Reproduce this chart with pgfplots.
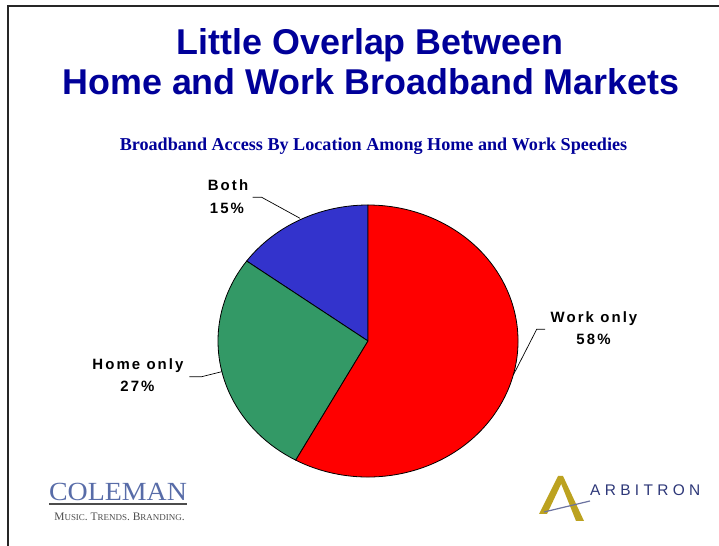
\documentclass[border=0pt]{standalone}
\usepackage{pgfplots}
\usepackage{pgfplotstable}
\pgfplotsset{compat=1.18}
\usepackage{fontspec}
\setmainfont{Liberation Sans}
\newfontfamily\serif{Liberation Serif}
\newfontfamily\lbl[LetterSpace=14]{Liberation Sans}
\newfontfamily\arb[LetterSpace=28]{Liberation Sans}
\definecolor{ttl}{RGB}{0,0,153}
\definecolor{pred}{RGB}{255,0,0}
\definecolor{pgreen}{RGB}{51,153,102}
\definecolor{pblue}{RGB}{51,51,204}
\definecolor{colem}{RGB}{88,108,168}
\definecolor{arbblue}{RGB}{45,55,120}
\definecolor{gold}{RGB}{188,162,32}

\pgfplotstableread{
label value
Both 15
Home 27
Work 58
}\piedata

\begin{document}
\begin{tikzpicture}
\path[use as bounding box] (0,0) rectangle (719bp,546bp);
\pgfplotstablegetelem{0}{value}\of\piedata \let\vBoth\pgfplotsretval
\pgfplotstablegetelem{1}{value}\of\piedata \let\vHome\pgfplotsretval
\pgfplotstablegetelem{2}{value}\of\piedata \let\vWork\pgfplotsretval
\begin{axis}[at={(0,0)},anchor=south west,scale only axis,
  width=719bp,height=546bp,xmin=0,xmax=719,ymin=0,ymax=546,
  hide axis,clip=false]
% frame
\draw[line width=2bp,black!85] (axis cs:8,0) -- (axis cs:8,540) -- (axis cs:719,540);
% titles
\node[anchor=base,text=ttl,font=\bfseries\fontsize{36}{40}\selectfont] at (axis cs:370,491) {Little Overlap Between};
\node[anchor=base,text=ttl,font=\bfseries\fontsize{36}{40}\selectfont] at (axis cs:371,451) {Home and Work Broadband Markets};
\node[anchor=base,text=ttl,font=\serif\bfseries\fontsize{18.2}{20}\selectfont] at (axis cs:373.5,395.3) {Broadband Access By Location Among Home and Work Speedies};
% pie
\filldraw[fill=pblue,draw=black,line width=0.8bp] (axis cs:368,205) -- +(90:150bp and 136bp)
  arc[start angle=90,end angle={90+3.6*\vBoth},x radius=150bp,y radius=136bp] -- cycle;
\filldraw[fill=pgreen,draw=black,line width=0.8bp] (axis cs:368,205) -- +({90+3.6*\vBoth}:150bp and 136bp)
  arc[start angle={90+3.6*\vBoth},end angle={90+3.6*(\vBoth+\vHome)},x radius=150bp,y radius=136bp] -- cycle;
\filldraw[fill=pred,draw=black,line width=0.8bp] (axis cs:368,205) -- +({90+3.6*(\vBoth+\vHome)}:150bp and 136bp)
  arc[start angle={90+3.6*(\vBoth+\vHome)},end angle={90+3.6*(\vBoth+\vHome+\vWork)},x radius=150bp,y radius=136bp] -- cycle;
% leader lines
\draw[line width=0.7bp] (axis cs:252.7,348.7) -- (axis cs:261.7,348.7) -- (axis cs:300,327.7);
\draw[line width=0.7bp] (axis cs:189.3,169.3) -- (axis cs:201.7,169.3) -- (axis cs:221.7,174.3);
\draw[line width=0.7bp] (axis cs:545,216.7) -- (axis cs:536.7,216.7) -- (axis cs:513.3,171);
% labels
\node[anchor=base,font=\lbl\bfseries\fontsize{15}{17}\selectfont] at (axis cs:228,355) {Both};
\node[anchor=base,font=\lbl\bfseries\fontsize{15}{17}\selectfont] at (axis cs:227,332) {15\%};
\node[anchor=base,font=\lbl\bfseries\fontsize{15}{17}\selectfont] at (axis cs:138,176) {Home only};
\node[anchor=base,font=\lbl\bfseries\fontsize{15}{17}\selectfont] at (axis cs:137.5,154) {27\%};
\node[anchor=base,font=\lbl\bfseries\fontsize{15}{17}\selectfont] at (axis cs:594,223) {Work only};
\node[anchor=base,font=\lbl\bfseries\fontsize{15}{17}\selectfont] at (axis cs:593.5,201) {58\%};
% Coleman logo
\node[anchor=base,text=colem,font=\serif\fontsize{25}{28}\selectfont] at (axis cs:118,45) {\scalebox{1.12}[1.05]{COLEMAN}};
\draw[line width=2bp,black!70] (axis cs:49,41.5) -- (axis cs:187,41.5);
\node[anchor=base,text=black!70,font=\serif\fontsize{11.5}{12}\selectfont] at (axis cs:119.5,26) {M{\fontsize{9}{10}\selectfont USIC}.\ T{\fontsize{9}{10}\selectfont RENDS}.\ B{\fontsize{9}{10}\selectfont RANDING}.};
% Arbitron logo
\fill[gold] (axis cs:558,70) -- (axis cs:563,70) -- (axis cs:584,25) -- (axis cs:576,25) -- cycle;
\fill[gold] (axis cs:558,70) -- (axis cs:563,66) -- (axis cs:547,32) -- (axis cs:539,32) -- cycle;
\draw[arbblue!70,line width=1.2bp] (axis cs:544,34) -- (axis cs:590,45);
\node[anchor=base west,inner sep=0pt,text=arbblue,font=\arb\fontsize{15.5}{17}\selectfont] at (axis cs:590,50) {ARBITRON};
\end{axis}
\end{tikzpicture}
\end{document}
